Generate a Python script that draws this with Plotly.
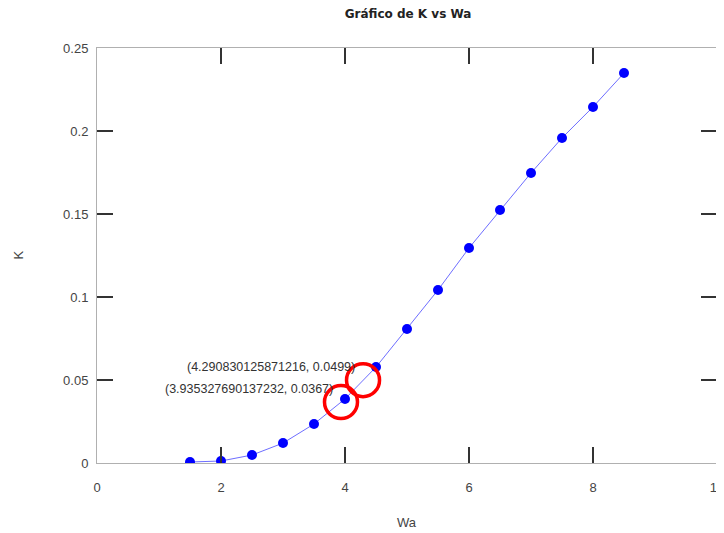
import plotly.graph_objects as go

wa = [1.5, 2, 2.5, 3, 3.5, 4, 4.5, 5, 5.5, 6, 6.5, 7, 7.5, 8, 8.5]
k = [0.0006, 0.0012, 0.0048, 0.012, 0.0235, 0.0386, 0.0578, 0.0807, 0.1042,
     0.1295, 0.1524, 0.1747, 0.1958, 0.2145, 0.2349]

mark_x = [3.935327690137232, 4.290830125871216]
mark_y = [0.0367, 0.0499]
mark_labels = ["(3.935327690137232, 0.0367)", "(4.290830125871216, 0.0499)"]

x_range = [0, 10]
y_range = [0, 0.25]

fig = go.Figure()
fig.add_trace(go.Scatter(
    x=wa, y=k, mode="lines+markers",
    line=dict(color="rgba(60,60,255,0.75)", width=1),
    marker=dict(color="#0000ff", size=10),
    showlegend=False,
))
fig.add_trace(go.Scatter(
    x=mark_x, y=mark_y, mode="markers", xaxis="x2", yaxis="y2",
    marker=dict(symbol="circle-open", size=33, color="#ff0000",
                line=dict(width=3.5, color="#ff0000")),
    showlegend=False,
))
lab_font = dict(family="Liberation Sans, Arial", size=12.5, color="#333333")
for x, y, t in zip(mark_x, mark_y, mark_labels):
    fig.add_annotation(x=x, y=y, text=t, showarrow=False,
                       xanchor="right", yanchor="middle", xshift=-6, yshift=13,
                       font=lab_font)

title_font = dict(family="Liberation Sans, Arial", size=13, color="#444444")
fig.add_annotation(x=0.5, y=0, xref="paper", yref="paper", text="Wa", showarrow=False,
                   xanchor="center", yanchor="middle", yshift=-59, font=title_font)
fig.add_annotation(x=0, y=0.5, xref="paper", yref="paper", text="K", showarrow=False,
                   xanchor="center", yanchor="middle", xshift=-79, textangle=-90,
                   font=title_font)

common = dict(
    showgrid=False, zeroline=False, showline=True, linecolor="#b0b0b0", linewidth=1,
    mirror="ticks", ticks="inside", ticklen=16, tickwidth=1.5, tickcolor="#333333",
    automargin=False,
)
tickfont = dict(family="Liberation Sans, Arial", size=13, color="#444444")
fig.update_layout(
    width=716, height=525,
    paper_bgcolor="white", plot_bgcolor="white",
    margin=dict(l=89, r=7, t=40, b=70),
    title=dict(text="<b>Gráfico de K vs Wa</b>", x=400 / 716, xanchor="center",
               y=1 - 6 / 525, yanchor="middle",
               font=dict(family="DejaVu Sans", size=12, color="#222222")),
    xaxis=dict(range=x_range, dtick=2, side="bottom", showticklabels=True,
               tickfont=tickfont, ticklabelstandoff=12, ticklabeloverflow="allow",
               **common),
    yaxis=dict(range=y_range, dtick=0.05, side="left", showticklabels=True,
               tickfont=tickfont, ticklabelstandoff=5, ticklabeloverflow="allow",
               **common),
    xaxis2=dict(range=x_range, dtick=2, overlaying="x", side="top", anchor="y2",
                showticklabels=False, **common),
    yaxis2=dict(range=y_range, dtick=0.05, overlaying="y", side="right", anchor="x2",
                showticklabels=False, **common),
)
fig.write_html("out.html")
